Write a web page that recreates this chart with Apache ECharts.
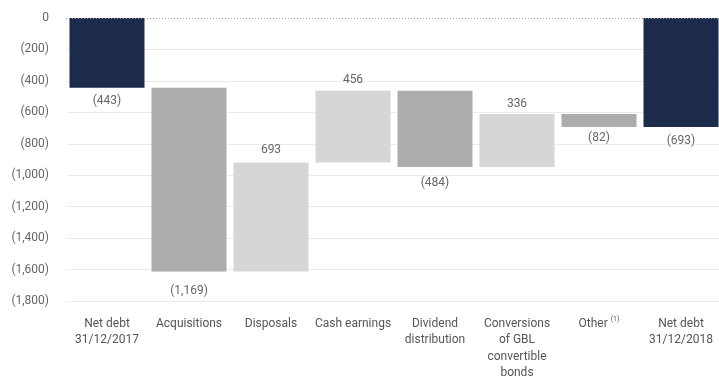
<!DOCTYPE html>
<html>
<head>
<meta charset="utf-8">
<script src="https://cdn.jsdelivr.net/npm/echarts@6/dist/echarts.min.js"></script>
<style>
  html, body { margin: 0; padding: 0; background: #fff; }
  #chart { width: 719px; height: 377px; }
</style>
</head>
<body>
<div id="chart"></div>
<script>
// categories and movements (EUR million)
const categories = ['Net debt\n31/12/2017', 'Acquisitions', 'Disposals', 'Cash earnings',
  'Dividend\ndistribution', 'Conversions\nof GBL\nconvertible\nbonds', 'Other', 'Net debt\n31/12/2018']
const values = [-443, -1169, 693, 456, -484, 336, -82, -693]
const isTotal = [true, false, false, false, false, false, false, true]
const yTicks = [0, -200, -400, -600, -800, -1000, -1200, -1400, -1600, -1800]

// gap between bar and its value label (as in the original layout)
const labelGap = [7, 14, 6, 5, 10, 4, 5, 8]

const NAVY = '#1c2a4b'
const DARK = '#acacad'
const LIGHT = '#d6d6d6'
const FONT = 'Roboto, sans-serif'

function fmt(v) {
  const s = Math.abs(v).toLocaleString('en-US')
  return v < 0 ? '(' + s + ')' : s
}

// build waterfall base / visible parts
const baseData = []
const barData = []
let level = 0
values.forEach((v, i) => {
  if (isTotal[i]) {
    baseData.push(0)
    barData.push({ value: v, raw: v, itemStyle: { color: NAVY },
      label: { position: 'bottom', distance: labelGap[i] } })
    level = v
  } else {
    const next = level + v
    // both ends are below zero: base is the end nearer to zero
    const top = Math.max(level, next)
    const bottom = Math.min(level, next)
    baseData.push(top)
    barData.push({
      value: bottom - top,
      raw: v,
      itemStyle: { color: v < 0 ? DARK : LIGHT },
      label: { position: v < 0 ? 'bottom' : 'top', distance: labelGap[i] }
    })
    level = next
  }
})

const chart = echarts.init(document.getElementById('chart'))
chart.setOption({
  animation: false,
  grid: { left: 66, right: -3, top: 18, bottom: 76, outerBoundsMode: 'none', containLabel: false },
  xAxis: {
    type: 'category',
    data: categories,
    axisLine: { show: false },
    axisTick: { show: false },
    axisLabel: {
      interval: 0,
      margin: 15,
      color: '#555',
      fontFamily: FONT,
      fontSize: 12,
      lineHeight: 16.3,
      formatter: (v) => v === 'Other' ? 'Other {sup|(1)}' : v,
      rich: { sup: { fontSize: 7, verticalAlign: 'top', color: '#555', fontFamily: FONT, padding: [0, 0, 6, 0] } }
    }
  },
  yAxis: {
    type: 'value',
    min: yTicks[yTicks.length - 1],
    max: yTicks[0],
    interval: 200,
    axisLine: { show: false },
    axisTick: { show: false },
    splitLine: { show: true, showMaxLine: false, lineStyle: { color: '#ebebeb', width: 1 } },
    axisLabel: {
      margin: 17,
      color: '#666',
      fontFamily: FONT,
      fontSize: 12,
      formatter: (v) => fmt(v)
    }
  },
  series: [
    {
      type: 'bar',
      stack: 'w',
      barWidth: 75,
      silent: true,
      itemStyle: { color: 'transparent' },
      data: baseData,
      markLine: {
        silent: true,
        symbol: 'none',
        label: { show: false },
        lineStyle: { type: [1, 2], color: '#9a9a9a', width: 1 },
        data: [{ yAxis: 0 }]
      }
    },
    {
      type: 'bar',
      stack: 'w',
      barWidth: 75,
      data: barData,
      label: {
        show: true,
        color: '#666',
        fontFamily: FONT,
        fontSize: 12,
        formatter: (p) => fmt(p.data.raw)
      }
    }
  ]
})
</script>
</body>
</html>
